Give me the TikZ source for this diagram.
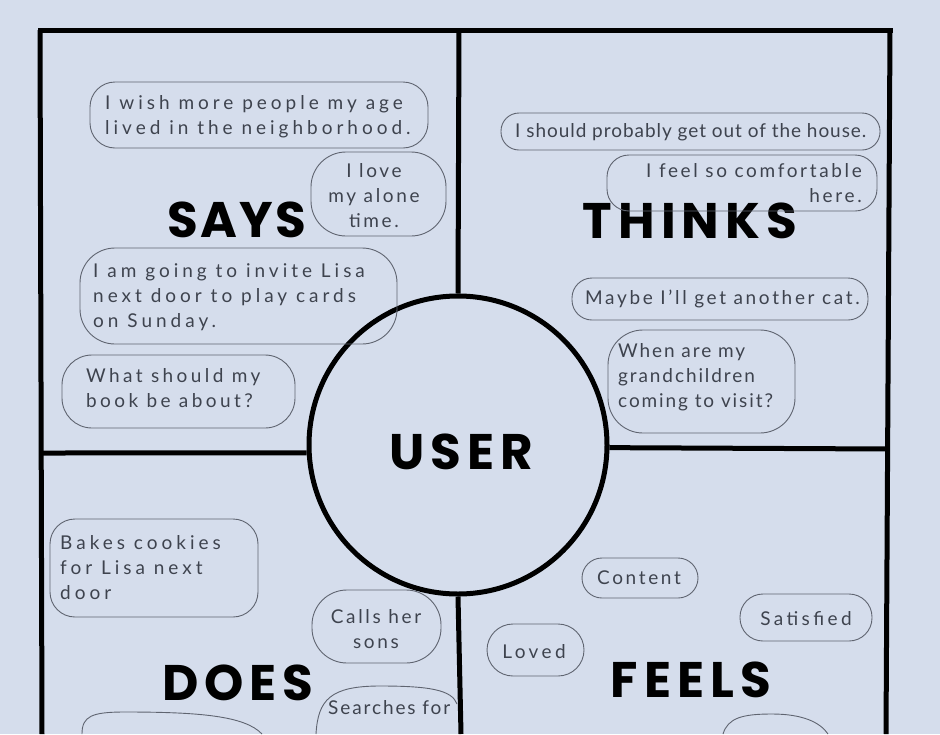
\documentclass[tikz,border=0pt]{standalone}
\usepackage{fontspec}
\newfontfamily\labfont{Poppins}[LetterSpace=12]
\newfontfamily\labfontn{Poppins}[LetterSpace=5]
\newfontfamily\handA{Lato}[LetterSpace=5]
\newfontfamily\handB{Lato}[LetterSpace=10]
\newfontfamily\handC{Lato}[LetterSpace=14]
\newfontfamily\handD{Lato}[LetterSpace=18]
\newfontfamily\handE{Lato}[LetterSpace=21]
\definecolor{paper}{HTML}{D5DDEC}
\definecolor{pencil}{HTML}{3E434E}
\definecolor{pencilline}{HTML}{5F6470}
\begin{document}
\begin{tikzpicture}[x=1pt,y=-1pt,
  frameline/.style={line width=5pt, black},
  title/.style={font=\labfont\bfseries\fontsize{50}{50}\selectfont, inner sep=0pt, anchor=base},
  hand/.style={font=\handC\fontsize{19}{25}\selectfont, text=pencil, inner sep=0pt},
  handa/.style={hand, font=\handA\fontsize{19}{25}\selectfont},
  handb/.style={hand, font=\handB\fontsize{19}{25}\selectfont},
  handd/.style={hand, font=\handD\fontsize{19}{25}\selectfont},
  hande/.style={hand, font=\handE\fontsize{19}{25}\selectfont},
  bubble/.style={draw=pencilline, line width=0.9pt}]
\useasboundingbox (0,0) rectangle (940,734);
\fill[paper] (0,0) rectangle (940,734);

% frame
\draw[frameline, line cap=rect] (40,30) -- (890,30);
\draw[frameline] (40,30) -- (42,734);
\draw[frameline] (890,30) -- (886,734);
\node[circle, frameline, draw, fill=paper, minimum size=298pt, inner sep=0pt] (user) at (458,445) {};
\draw[frameline] (459,30) -- (user.north);
\draw[frameline] (user.south) -- (461,734);
\draw[frameline] (40,453) -- (user.183);
\draw[frameline] (user.-1.5) -- (888,449);

% titles
\node[title, font=\labfontn\bfseries\fontsize{50}{50}\selectfont] (says) at (237,237) {SAYS};
\node[title] (thinks) at (690,238) {THINKS};
\node[title] (usert) at (461,469) {USER};
\node[title] (does) at (238,700) {DOES};
\node[title] (feels) at (691,697) {FEELS};

% SAYS bubbles
\draw[bubble, rounded corners=25pt] (90,82) rectangle (428,148);
\node[hande, anchor=north west, align=left] (s1) at (105,95) {I wish more people my age\\lived in the neighborhood.};
\draw[bubble, rounded corners=35pt] (311,152) rectangle (446,236);
\node[hand, anchor=north, align=center] (s2) at (374,163) {I love\\my alone\\time.};
\draw[bubble, rounded corners=35pt] (80,248) rectangle (397,344);
\node[hande, anchor=north west, align=left] (s3) at (93,263) {I am going to invite Lisa\\next door to play cards\\on Sunday.};
\draw[bubble, rounded corners=30pt] (62,355) rectangle (295,428);
\node[handd, anchor=north west, align=left] (s4) at (86,368) {What should my\\book be about?};

% THINKS bubbles
\draw[bubble, rounded corners=18pt] (501,113) rectangle (880,150);
\node[handa, anchor=north west] (t1) at (515,123) {I should probably get out of the house.};
\draw[bubble, rounded corners=22pt] (607,155) rectangle (877,211);
\node[hand, anchor=north east, align=right] (t2) at (862,163) {I feel so comfortable\\here.};
\draw[bubble, rounded corners=20pt] (572,278) rectangle (868,320);
\node[hand, anchor=north west] (t3) at (585,290) {Maybe I’ll get another cat.};
\draw[bubble, rounded corners=35pt] (608,330) rectangle (795,433);
\node[handb, anchor=north west, align=left] (t4) at (618,343) {When are my\\grandchildren\\coming to visit?};

% DOES bubbles
\draw[bubble, rounded corners=25pt] (50,519) rectangle (258,617);
\node[hande, anchor=north west, align=left] (d1) at (60,535) {Bakes cookies\\for Lisa next\\door};
\draw[bubble, rounded corners=35pt] (312,590) rectangle (441,663);
\node[hand, anchor=north, align=center] (d2) at (376,609) {Calls her\\sons};
\draw[bubble] (316,734) .. controls (318,700) and (330,686) .. (380,686) .. controls (430,686) and (452,690) .. (457,704);
\node[handb, anchor=north west] (d3) at (328,700) {Searches for};
\draw[bubble] (82,734) .. controls (82,716) and (92,712) .. (125,712) .. controls (200,712) and (245,716) .. (262,734);

% FEELS bubbles
\draw[bubble, rounded corners=20pt] (582,558) rectangle (698,598);
\node[hand] (f1) at (639,578) {Content};
\draw[bubble, rounded corners=23pt] (740,594) rectangle (872,641);
\node[handd] (f2) at (806,619) {Satisfied};
\draw[bubble, rounded corners=26pt] (487,624) rectangle (584,676);
\node[handd] (f3) at (534,652) {Loved};
\draw[bubble] (723,734) .. controls (728,718) and (742,714) .. (772,714) .. controls (802,714) and (820,722) .. (828,734);
\end{tikzpicture}
\end{document}
